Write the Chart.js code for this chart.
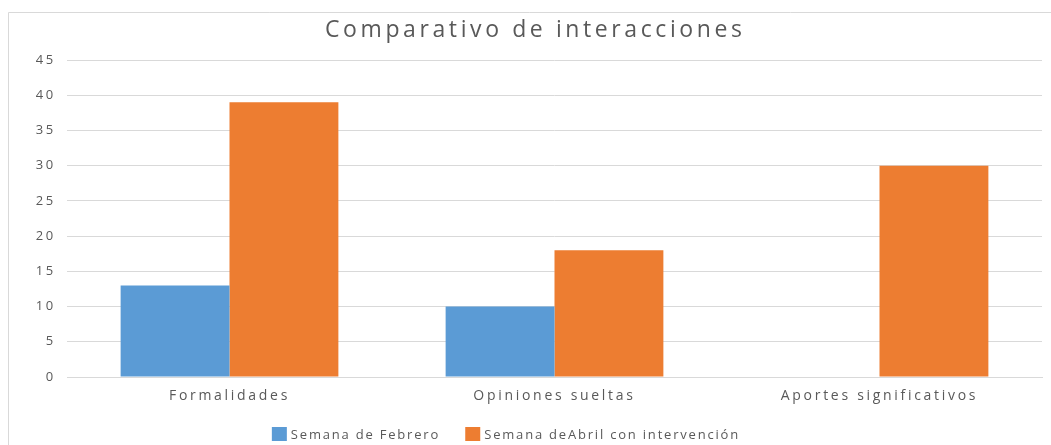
<!DOCTYPE html>
<html>
<head>
<meta charset="utf-8">
<script src="https://cdn.jsdelivr.net/npm/chart.js@4.4.1/dist/chart.umd.min.js"></script>
<style>
html,body{margin:0;padding:0;background:#fff;}
#wrap{position:relative;width:1051px;height:445px;}
</style>
</head>
<body>
<div id="wrap"><canvas id="c" width="1051" height="445"></canvas></div>
<script>
const categories = ["Formalidades", "Opiniones sueltas", "Aportes significativos"];
const seriesNames = ["Semana de Febrero", "Semana deAbril con intervención"];
const febrero = [13, 10, 0];
const abril = [39, 18, 30];
const yTicks = [0, 5, 10, 15, 20, 25, 30, 35, 40, 45];
const colors = ['#5B9BD5', '#ED7D31'];
const titleText = 'Comparativo de interacciones';

const FONT = "'Open Sans', sans-serif";
const TXT = "#595959";
const AXIS_SPACING = '2.7px';
const TITLE_SPACING = 3.6;
const LEGEND_SPACING = 1.8;

const spacingPlugin = {
  id: 'spacing',
  beforeUpdate(chart) { chart.ctx.letterSpacing = AXIS_SPACING; },
  beforeLayout(chart) { chart.ctx.letterSpacing = AXIS_SPACING; },
  beforeDraw(chart) {
    const ctx = chart.ctx;
    ctx.letterSpacing = AXIS_SPACING;
    ctx.save();
    ctx.fillStyle = '#fff';
    ctx.fillRect(0, 0, chart.width, chart.height);
    ctx.strokeStyle = '#D9D9D9';
    ctx.lineWidth = 1;
    ctx.beginPath();
    ctx.moveTo(8.5, 445);
    ctx.lineTo(8.5, 12.5);
    ctx.lineTo(1051, 12.5);
    ctx.stroke();
    ctx.restore();
  },
  afterDraw(chart) {
    const ctx = chart.ctx;
    // title
    ctx.save();
    ctx.letterSpacing = TITLE_SPACING + 'px';
    ctx.font = "23px " + FONT;
    ctx.fillStyle = TXT;
    ctx.textAlign = 'left';
    ctx.textBaseline = 'alphabetic';
    const tw = ctx.measureText(titleText).width - TITLE_SPACING;
    const cx = (chart.chartArea.left + chart.chartArea.right) / 2 - 21;
    ctx.fillText(titleText, cx - tw / 2, 37);
    ctx.restore();

    // legend
    ctx.save();
    ctx.letterSpacing = LEGEND_SPACING + 'px';
    ctx.font = "13px " + FONT;
    ctx.textBaseline = 'middle';
    ctx.textAlign = 'left';
    const box = 15, gapText = 4, gapItem = 27;
    const widths = seriesNames.map(s => ctx.measureText(s).width - LEGEND_SPACING);
    let total = 0;
    widths.forEach((w, i) => { total += box + gapText + w + (i < widths.length - 1 ? gapItem : 0); });
    const legCenter = 505, legY = 434;
    let x = legCenter - total / 2;
    seriesNames.forEach((s, i) => {
      ctx.fillStyle = colors[i];
      ctx.fillRect(x, legY - 7, box, 14);
      ctx.fillStyle = TXT;
      ctx.fillText(s, x + box + gapText, legY + 1);
      x += box + gapText + widths[i] + gapItem;
    });
    ctx.restore();
  }
};

new Chart(document.getElementById('c'), {
  type: 'bar',
  data: {
    labels: categories,
    datasets: [
      { label: seriesNames[0], data: febrero, backgroundColor: colors[0] },
      { label: seriesNames[1], data: abril, backgroundColor: colors[1] }
    ]
  },
  options: {
    responsive: false,
    animation: false,
    devicePixelRatio: 1,
    layout: { padding: { left: 0, right: 9, top: 60, bottom: 20 } },
    datasets: { bar: { categoryPercentage: 0.67, barPercentage: 1.0 } },
    plugins: {
      title: { display: false },
      legend: { display: false },
      tooltip: { enabled: false }
    },
    scales: {
      x: {
        grid: { display: false, drawTicks: false },
        border: { color: '#D9D9D9' },
        ticks: { color: TXT, font: { family: FONT, size: 14 }, padding: 11 },
        afterFit(s) { s.height = 48; }
      },
      y: {
        min: 0, max: 45,
        afterBuildTicks(s) { s.ticks = yTicks.map(v => ({ value: v })); },
        grid: { color: '#D9D9D9', drawTicks: false },
        border: { display: false },
        ticks: { color: TXT, font: { family: FONT, size: 13 }, padding: 11 },
        afterFit(s) { s.width = 67; }
      }
    }
  },
  plugins: [spacingPlugin]
});
</script>
</body>
</html>
